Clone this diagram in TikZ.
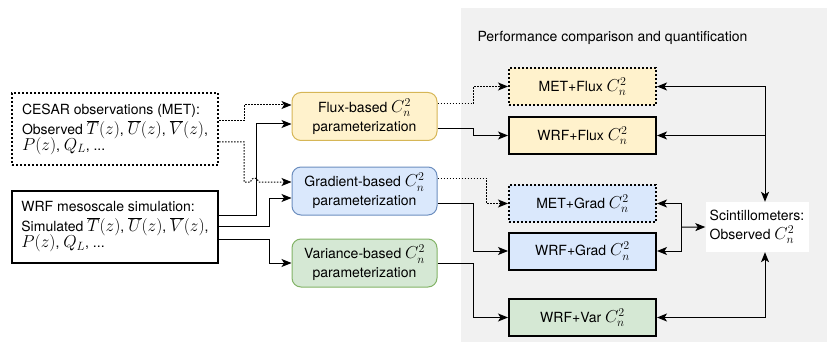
\documentclass[tikz,border=0pt]{standalone}
\usepackage{fontspec}
\setmainfont{TeX Gyre Heros}
\usetikzlibrary{arrows.meta,calc}
\definecolor{bggray}{HTML}{F1F1F1}
\definecolor{fluxfill}{HTML}{FFF2CC}
\definecolor{fluxdraw}{HTML}{D6B656}
\definecolor{gradfill}{HTML}{DAE8FC}
\definecolor{graddraw}{HTML}{6C8EBF}
\definecolor{varfill}{HTML}{D5E8D4}
\definecolor{vardraw}{HTML}{82B366}
\newcommand{\mth}[1]{{\fontsize{16.5}{18}\selectfont$#1$}}
\tikzset{
  every node/.style={font=\fontsize{14}{19}\selectfont},
  inbox/.style={draw, line width=2pt, minimum width=206pt, minimum height=72pt,
    align=left, inner sep=0pt},
  param/.style={draw, rounded corners=9pt, line width=1pt, minimum width=145pt,
    minimum height=48pt, align=center, inner sep=0pt},
  result/.style={draw, line width=2pt, minimum width=147pt, minimum height=37pt, inner sep=0pt},
  obsdots/.style={dash pattern=on 2pt off 2pt},
  dotline/.style={line width=1pt, dash pattern=on 1.5pt off 1.5pt},
  conn/.style={line width=1pt}
}
\begin{document}
\begin{tikzpicture}[x=1pt, y=-1pt, >={Stealth[length=10pt,width=8pt,inset=2.5pt]}]
\useasboundingbox (0,0) rectangle (827,342);
\fill[bggray] (461,8) rectangle (827,342);
\node[anchor=west] (title) at (474,38) {Performance comparison and quantification};

% inputs
\node[inbox, obsdots] (cesar) at (115,129)
  {CESAR observations (MET):\\[1pt]Observed \mth{\overline{T}(z)}, \mth{\overline{U}(z)}, \mth{\overline{V}(z)},\\[-3pt]\mth{P(z)}, \mth{Q_L}, ...};
\node[inbox] (wrf) at (115,226.5)
  {WRF mesoscale simulation:\\[1pt]Simulated \mth{\overline{T}(z)}, \mth{\overline{U}(z)}, \mth{\overline{V}(z)},\\[-3pt]\mth{P(z)}, \mth{Q_L}, ...};

% parameterizations
\node[param, fill=fluxfill, draw=fluxdraw] (flux) at (364.5,116.5) {Flux-based \mth{C_n^2}\\parameterization};
\node[param, fill=gradfill, draw=graddraw] (grad) at (364.5,191) {Gradient-based \mth{C_n^2}\\parameterization};
\node[param, fill=varfill, draw=vardraw] (var) at (364.5,263) {Variance-based \mth{C_n^2}\\parameterization};

% results
\node[result, obsdots, fill=fluxfill] (metflux) at (582.5,86.5) {MET+Flux \mth{C_n^2}};
\node[result, fill=fluxfill] (wrfflux) at (582.5,135.5) {WRF+Flux \mth{C_n^2}};
\node[result, obsdots, fill=gradfill] (metgrad) at (582.5,203.5) {MET+Grad \mth{C_n^2}};
\node[result, fill=gradfill] (wrfgrad) at (582.5,251) {WRF+Grad \mth{C_n^2}};
\node[result, fill=varfill] (wrfvar) at (582.5,317.5) {WRF+Var \mth{C_n^2}};

\node[fill=white, align=left, minimum width=103pt, minimum height=50pt, inner sep=0pt]
  (scint) at (757,227) {Scintillometers:\\Observed \mth{C_n^2}};
\coordinate (sc) at ([xshift=8pt]scint.north);

% inputs to parameterizations
\draw[dotline, ->] ([yshift=8pt]cesar.east) -- ++(25,0) |- ([yshift=11.5pt]flux.west);
\draw[conn, ->] ([yshift=11.5pt]wrf.east) -- ++(37,0) |- ([yshift=-7.5pt]flux.west);
\draw[dotline, ->] ([yshift=-13pt]cesar.east) -- ++(25,0) |- ([xshift=-41pt,yshift=9pt]grad.west)
  arc[start angle=180, end angle=0, radius=4pt] -- ([yshift=9pt]grad.west);
\draw[conn, ->] (wrf.east) -- ++(50,0) |- ([yshift=-7pt]grad.west);
\draw[conn, ->] ([yshift=-12.5pt]wrf.east) -- ++(50,0) |- (var.west);

% parameterizations to results
\draw[dotline, ->] ([yshift=12.5pt]flux.east) -- ++(36,0) |- (metflux.west);
\draw[conn, ->] ([yshift=-12.5pt]flux.east) -- ++(36,0) |- (wrfflux.west);
\draw[dotline, ->] ([yshift=13pt]grad.east) -- ++(49,0) |- (metgrad.west);
\draw[conn, ->] ([yshift=-12pt]grad.east) -- ++(36,0) |- (wrfgrad.west);
\draw[conn, ->] (var.east) -- ++(36,0) |- (wrfvar.west);

% comparison with scintillometers
\draw[conn, <->] (metflux.east) -| (sc);
\draw[conn, <-] (wrfflux.east) -- (wrfflux.east -| sc);
\draw[conn, <->] (metgrad.east) -- ++(24,0) |- (wrfgrad.east);
\draw[conn, ->] ($(metgrad.east)!0.5!(wrfgrad.east)$) ++(24,0) -- (scint.west);
\draw[conn, <->] (wrfvar.east) -| ([xshift=8pt]scint.south);
\end{tikzpicture}
\end{document}
